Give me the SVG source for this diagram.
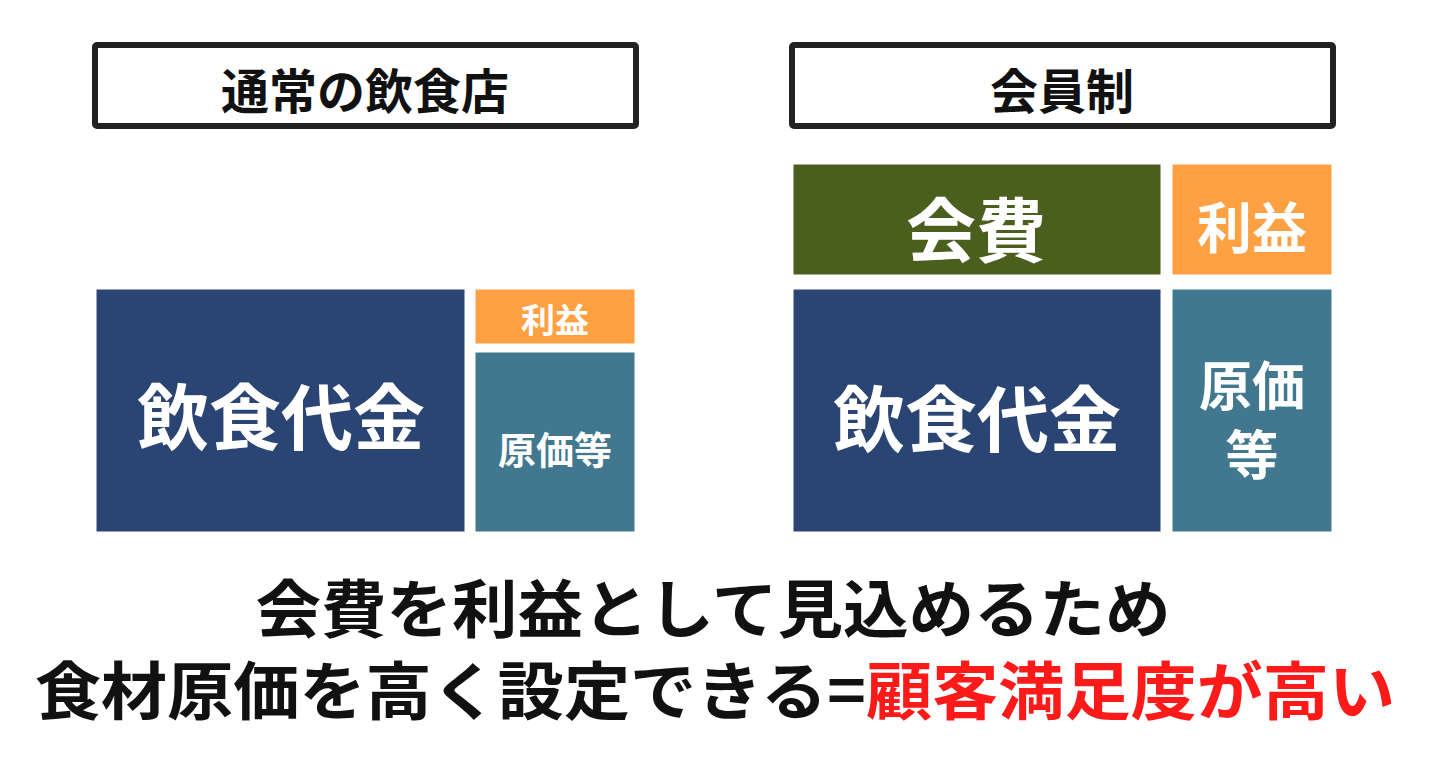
<svg xmlns="http://www.w3.org/2000/svg" width="1440" height="762" viewBox="0 0 1440 762">
<style>
.t{font-family:"Noto Sans CJK JP","Noto Sans CJK SC",sans-serif;font-weight:700;text-anchor:middle;dominant-baseline:central}
.w{fill:#ffffff}
.k{fill:#111111}
.hd{fill:#ffffff;stroke:#222222;stroke-width:6}
.navy{fill:#2a4574;stroke:#ffffff;stroke-width:1}
.teal{fill:#41788f;stroke:#ffffff;stroke-width:1}
.orange{fill:#ffa143;stroke:#ffffff;stroke-width:1}
.olive{fill:#4a5e1e;stroke:#ffffff;stroke-width:1}
</style>
<rect width="1440" height="762" fill="#ffffff"/>
<g id="header-left">
<rect class="hd" x="95" y="45" width="541" height="81" rx="2"/>
<text class="t k" x="365" y="88" font-size="48">通常の飲食店</text>
</g>
<g id="header-right">
<rect class="hd" x="792" y="45" width="541" height="81" rx="2"/>
<text class="t k" x="1062" y="88" font-size="48">会員制</text>
</g>
<g id="left-food">
<rect class="navy" x="96" y="289" width="369" height="243"/>
<text class="t w" x="281" y="412" font-size="72">飲食代金</text>
</g>
<g id="left-profit">
<rect class="orange" x="475" y="289" width="160" height="55"/>
<text class="t w" x="555" y="318" font-size="34">利益</text>
</g>
<g id="left-cost">
<rect class="teal" x="475" y="352" width="160" height="180"/>
<text class="t w" x="555" y="447" font-size="38">原価等</text>
</g>
<g id="right-fee">
<rect class="olive" x="793" y="164" width="368" height="111"/>
<text class="t w" x="976" y="226" font-size="70">会費</text>
</g>
<g id="right-profit">
<rect class="orange" x="1172" y="164" width="160" height="111"/>
<text class="t w" x="1252" y="224" font-size="55">利益</text>
</g>
<g id="right-food">
<rect class="navy" x="793" y="289" width="368" height="243"/>
<text class="t w" x="977" y="414" font-size="72">飲食代金</text>
</g>
<g id="right-cost">
<rect class="teal" x="1172" y="289" width="160" height="243"/>
<text class="t w" x="1252" y="383" font-size="53">原価</text>
<text class="t w" x="1252" y="452" font-size="53">等</text>
</g>
<g id="caption">
<text class="t k" x="713" y="604" font-size="63" font-weight="900" textLength="915" lengthAdjust="spacingAndGlyphs">会費を利益として見込めるため</text>
<text class="t k" x="715" y="686" font-size="63" font-weight="900" textLength="1360" lengthAdjust="spacingAndGlyphs">食材原価を高く設定できる=<tspan fill="#ff1a1a">顧客満足度が高い</tspan></text>
</g>
</svg>
